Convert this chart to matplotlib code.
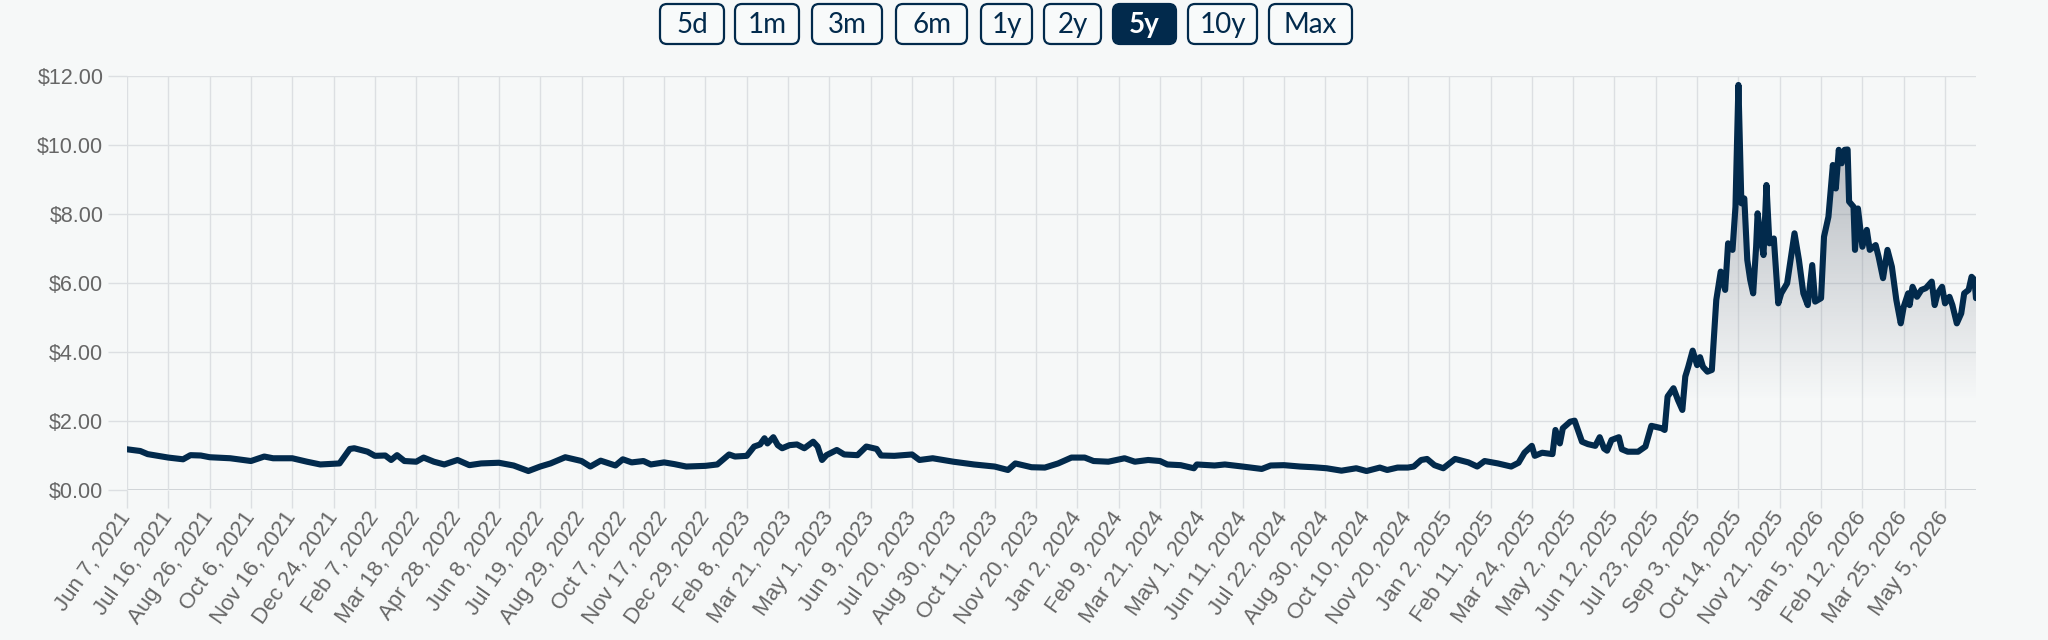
import numpy as np
import matplotlib.pyplot as plt
from matplotlib.patches import FancyBboxPatch

# range selector buttons above the chart
ranges = ['5d', '1m', '3m', '6m', '1y', '2y', '5y', '10y', 'Max']
active_range = '5y'

# x labels, one every 28 trading days starting Jun 7, 2021
tick_labels = [
    'Jun 7, 2021', 'Jul 16, 2021', 'Aug 26, 2021', 'Oct 6, 2021', 'Nov 16, 2021',
    'Dec 24, 2021', 'Feb 7, 2022', 'Mar 18, 2022', 'Apr 28, 2022', 'Jun 8, 2022',
    'Jul 19, 2022', 'Aug 29, 2022', 'Oct 7, 2022', 'Nov 17, 2022', 'Dec 29, 2022',
    'Feb 8, 2023', 'Mar 21, 2023', 'May 1, 2023', 'Jun 9, 2023', 'Jul 20, 2023',
    'Aug 30, 2023', 'Oct 11, 2023', 'Nov 20, 2023', 'Jan 2, 2024', 'Feb 9, 2024',
    'Mar 21, 2024', 'May 1, 2024', 'Jun 11, 2024', 'Jul 22, 2024', 'Aug 30, 2024',
    'Oct 10, 2024', 'Nov 20, 2024', 'Jan 2, 2025', 'Feb 11, 2025', 'Mar 24, 2025',
    'May 2, 2025', 'Jun 12, 2025', 'Jul 23, 2025', 'Sep 3, 2025', 'Oct 14, 2025',
    'Nov 21, 2025', 'Jan 5, 2026', 'Feb 12, 2026', 'Mar 25, 2026', 'May 5, 2026',
]
tick_step = 28

# price, trading-day index -> $
day = [0, 9, 14, 28, 38, 43, 50, 56, 70, 84, 93, 99, 112, 122, 131, 140, 144,
       151, 154, 163, 168, 175, 179, 183, 188, 196, 201, 208, 215, 224, 232, 240,
       252, 262, 272, 280, 287, 297, 308, 314, 321, 331, 336, 342, 350, 355, 364,
       371, 379, 392, 400, 408, 412, 420, 425, 429, 432, 434, 438, 441, 444, 449,
       454, 459, 465, 468, 471, 474, 481, 486, 495, 501, 508, 511, 520, 532, 537,
       546, 560, 574, 588, 597, 602, 613, 622, 631, 640, 649, 655, 665, 676, 683,
       692, 700, 705, 714, 723, 725, 737, 744, 756, 769, 775, 784, 795, 804, 813,
       823, 833, 840, 849, 854, 861, 868, 872, 877, 881, 886, 892, 900, 909, 915,
       920, 929, 938, 943, 947, 952, 954, 959, 966, 968, 971, 973, 978, 981, 986,
       990, 995, 998, 1001, 1003, 1006, 1011, 1013, 1017, 1024, 1029, 1033, 1040,
       1042, 1044, 1048, 1051, 1054, 1056, 1058, 1061, 1064, 1066, 1068, 1071,
       1074, 1077, 1080, 1083, 1085, 1088, 1090, 1092, 1094, 1096, 1098, 1100,
       1102, 1104, 1105, 1107, 1109, 1111, 1113, 1116, 1119, 1121, 1125, 1128,
       1130, 1133, 1136, 1139, 1142, 1144, 1148, 1150, 1153, 1156, 1158, 1160,
       1162, 1164, 1166, 1167, 1170, 1171, 1173, 1176, 1179, 1181, 1185, 1187,
       1190, 1193, 1196, 1199, 1202, 1204, 1207, 1208, 1210, 1213, 1216, 1219,
       1223, 1225, 1227, 1230, 1232, 1235, 1237, 1240, 1243, 1245, 1248, 1250,
       1252, 1253]
price = [1.18, 1.13, 1.04, 0.94, 0.89, 1.01, 1.00, 0.95, 0.92, 0.84, 0.97, 0.92,
         0.92, 0.82, 0.74, 0.76, 0.77, 1.19, 1.21, 1.11, 0.99, 1.00, 0.87, 1.01,
         0.84, 0.82, 0.94, 0.82, 0.74, 0.87, 0.72, 0.77, 0.79, 0.71, 0.55, 0.68,
         0.77, 0.95, 0.84, 0.68, 0.85, 0.71, 0.89, 0.80, 0.84, 0.74, 0.80, 0.75,
         0.68, 0.70, 0.74, 1.03, 0.97, 0.99, 1.26, 1.32, 1.50, 1.35, 1.53, 1.30,
         1.21, 1.30, 1.32, 1.21, 1.40, 1.26, 0.87, 1.01, 1.16, 1.03, 1.01, 1.26,
         1.19, 1.00, 0.99, 1.03, 0.87, 0.92, 0.82, 0.74, 0.68, 0.58, 0.77, 0.66,
         0.65, 0.77, 0.94, 0.94, 0.84, 0.82, 0.92, 0.82, 0.87, 0.84, 0.74, 0.72,
         0.63, 0.74, 0.71, 0.74, 0.68, 0.61, 0.71, 0.72, 0.68, 0.66, 0.63, 0.56,
         0.63, 0.55, 0.65, 0.58, 0.65, 0.65, 0.68, 0.87, 0.90, 0.72, 0.63, 0.90,
         0.80, 0.68, 0.84, 0.77, 0.68, 0.79, 1.08, 1.28, 0.99, 1.08, 1.04, 1.74,
         1.35, 1.79, 1.98, 2.01, 1.40, 1.33, 1.28, 1.53, 1.20, 1.14, 1.45, 1.53,
         1.18, 1.11, 1.11, 1.26, 1.86, 1.79, 1.74, 2.71, 2.95, 2.61, 2.32, 3.29,
         3.57, 4.04, 3.62, 3.85, 3.57, 3.43, 3.48, 5.51, 6.33, 5.80, 7.15, 6.96,
         8.21, 11.74, 8.31, 8.45, 6.67, 6.09, 5.70, 7.05, 8.02, 7.34, 6.81, 8.84,
         7.15, 7.29, 5.41, 5.70, 5.99, 6.86, 7.44, 6.67, 5.70, 5.36, 6.52, 5.46,
         5.56, 7.34, 7.92, 9.42, 8.74, 9.86, 9.47, 9.86, 9.87, 8.36, 8.21, 6.96,
         8.16, 7.05, 7.54, 6.96, 7.10, 6.76, 6.14, 6.96, 6.47, 5.51, 4.83, 5.31,
         5.70, 5.36, 5.89, 5.60, 5.80, 5.85, 6.04, 5.36, 5.70, 5.89, 5.41, 5.60,
         5.36, 4.83, 5.12, 5.70, 5.80, 6.18, 6.09, 5.56]

bg = '#f6f8f8'
navy = '#022a4c'
grid_c = '#dcdfe2'
label_c = '#666666'

fig = plt.figure(figsize=(20.48, 6.4), dpi=100, facecolor=bg)
ax = fig.add_axes([127/2048, 1 - 490/640, (1976 - 127)/2048, (490 - 76)/640])
ax.set_facecolor(bg)

# grey gradient under the line
levels = np.linspace(0, 12, 400)
rgba = np.zeros((400, 1, 4))
rgba[..., 0], rgba[..., 1], rgba[..., 2] = 0.44, 0.47, 0.52
rgba[..., 3] = (np.clip((levels - 2.6) / 7.0, 0, 1) * 0.45)[:, None]
im = ax.imshow(rgba, extent=[0, day[-1], 0, 12], origin='lower',
               aspect='auto', interpolation='bilinear', zorder=2)
area = ax.fill_between(day, price, 0, color='none', lw=0)
im.set_clip_path(area.get_paths()[0], transform=ax.transData)

ax.plot(day, price, color=navy, lw=4.4, solid_joinstyle='round',
        solid_capstyle='round', zorder=3)

ax.set_xlim(0, day[-1])
ax.set_ylim(0, 12)

ax.set_xticks(np.arange(len(tick_labels)) * tick_step)
ax.set_xticklabels(tick_labels, rotation=55, ha='right', va='center',
                   rotation_mode='anchor', fontsize=16, color=label_c,
                   family='Liberation Sans')
ax.set_yticks(np.arange(0, 13, 2))
ax.set_yticklabels(['$%.2f' % v for v in np.arange(0, 13, 2)],
                   fontsize=15.5, color=label_c, family='Liberation Sans')
ax.tick_params(axis='x', length=13, width=1, color=grid_c, pad=4)
ax.tick_params(axis='y', length=14, width=1, color=grid_c, pad=3)
ax.grid(True, color=grid_c, lw=1, zorder=1)
ax.axhline(0, color='#cbcfd2', lw=2, zorder=1.5)
for s in ax.spines.values():
    s.set_visible(False)

# buttons, drawn in pixel space
bx = fig.add_axes([0, 0, 1, 1], zorder=5)
bx.set_xlim(0, 2048)
bx.set_ylim(640, 0)
bx.axis('off')
btn_left = [660, 735, 812, 896, 981, 1044, 1113, 1188, 1269]
btn_width = [64, 64, 70, 71, 51, 57, 63, 69, 83]
for name, x0, w in zip(ranges, btn_left, btn_width):
    on = name == active_range
    bx.add_patch(FancyBboxPatch((x0, 4), w, 40,
                                boxstyle='round,pad=0,rounding_size=7',
                                fc=navy if on else '#f8fafa', ec=navy, lw=1.6))
    bx.text(x0 + w / 2, 25, name, ha='center', va='center', fontsize=20,
            family='Lato', color='white' if on else navy,
            fontweight='bold' if on else 'normal')

fig.savefig('out.png', dpi=100, facecolor=bg)
